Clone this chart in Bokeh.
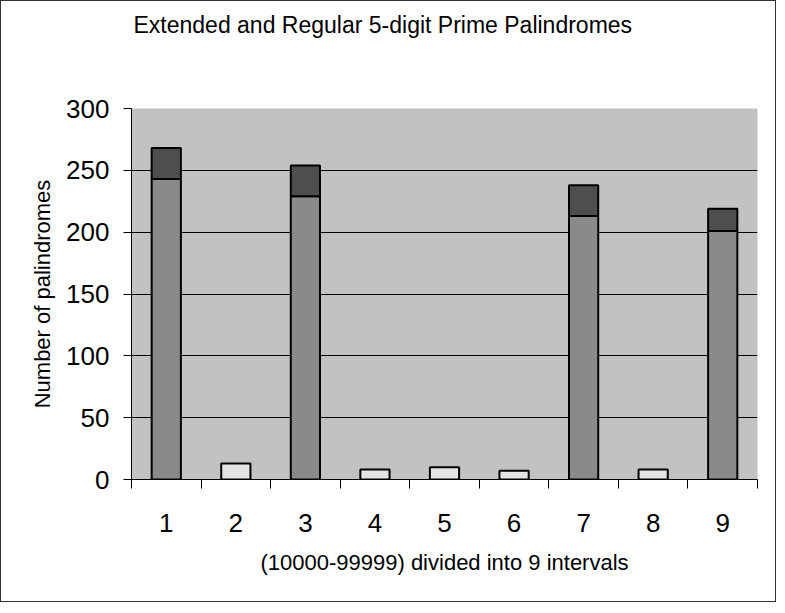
from bokeh.plotting import figure
from bokeh.models import ColumnDataSource, Range1d, FixedTicker, Title
from bokeh.embed import file_html
from bokeh.resources import INLINE

# ---- data ----
intervals = [1, 2, 3, 4, 5, 6, 7, 8, 9]
tick_labels = ["1", "2", "3", "4", "5", "6", "7", "8", "9"]
regular = [243, 0, 229, 0, 0, 0, 213, 0, 201]      # lower segment
extended = [25, 0, 25, 0, 0, 0, 25, 0, 18]         # upper segment
small = [0, 13, 0, 8, 10, 7, 0, 8, 0]              # short bars

title_text = "Extended and Regular 5-digit Prime Palindromes"
x_title = "(10000-99999) divided into 9 intervals"
y_title = "Number of palindromes"
y_ticks = [0, 50, 100, 150, 200, 250, 300]

FONT = "Liberation Sans"

def nonzero(xs, bottoms, tops):
    keep = [i for i in range(len(xs)) if tops[i] - bottoms[i] > 0]
    return ColumnDataSource(dict(x=[xs[i] for i in keep],
                                 bottom=[bottoms[i] for i in keep],
                                 top=[tops[i] for i in keep]))

reg_src = nonzero(intervals, [0] * 9, regular)
ext_src = nonzero(intervals, regular, [r + e for r, e in zip(regular, extended)])
sm_src = nonzero(intervals, [0] * 9, small)

p = figure(frame_width=626, frame_height=371,
           x_range=Range1d(0.5, 9.5), y_range=Range1d(0, 300),
           output_backend="svg", toolbar_location=None, tools="")
p.min_border_left = 130
p.min_border_right = 18
p.min_border_top = 107
p.min_border_bottom = 122
p.background_fill_color = "#c2c2c2"
p.border_fill_color = "white"
p.outline_line_color = None
p.styles = {"border": "1px solid #333333"}

bw = 0.42
p.vbar(x="x", bottom="bottom", top="top", width=bw, source=reg_src,
       fill_color="#8a8a8a", line_color="black", line_width=2)
p.vbar(x="x", bottom="bottom", top="top", width=bw, source=ext_src,
       fill_color="#4e4e4e", line_color="black", line_width=2)
p.vbar(x="x", bottom="bottom", top="top", width=bw, source=sm_src,
       fill_color="#e4e4e4", line_color="black", line_width=2)

# grid
p.xgrid.grid_line_color = None
p.ygrid.grid_line_color = "black"
p.ygrid.grid_line_width = 1
p.ygrid.ticker = FixedTicker(ticks=y_ticks)

# x axis
xa = p.xaxis[0]
xa.ticker = FixedTicker(ticks=intervals,
                        minor_ticks=[i - 0.5 for i in intervals] + [intervals[-1] + 0.5])
xa.major_label_overrides = {i: t for i, t in zip(intervals, tick_labels)}
xa.major_tick_line_color = None
xa.major_tick_out = 0
xa.major_tick_in = 0
xa.minor_tick_line_color = "black"
xa.minor_tick_out = 9
xa.minor_tick_in = 0
xa.axis_line_color = "black"
xa.major_label_text_font = FONT
xa.major_label_text_font_size = "26px"
xa.major_label_text_color = "black"
xa.major_label_standoff = 25
xa.axis_label = x_title
xa.axis_label_text_font = FONT
xa.axis_label_text_font_size = "22px"
xa.axis_label_text_font_style = "normal"
xa.axis_label_text_color = "black"
xa.axis_label_standoff = 15

# y axis
ya = p.yaxis[0]
ya.ticker = FixedTicker(ticks=y_ticks)
ya.major_tick_line_color = "black"
ya.major_tick_out = 8
ya.major_tick_in = 0
ya.minor_tick_line_color = None
ya.axis_line_color = "black"
ya.major_label_text_font = FONT
ya.major_label_text_font_size = "26px"
ya.major_label_text_color = "black"
ya.major_label_standoff = 14
ya.axis_label = y_title
ya.axis_label_text_font = FONT
ya.axis_label_text_font_size = "22px"
ya.axis_label_text_font_style = "normal"
ya.axis_label_text_color = "black"
ya.axis_label_standoff = 8

# spacer between the frame and the chart title, then the title itself
spacer = Title(text=" ", text_font=FONT, text_font_size="62px", standoff=0)
p.add_layout(spacer, "above")
main_title = Title(text=title_text, text_font=FONT, text_font_size="23px",
                   text_font_style="normal", text_color="black",
                   align="left", offset=2, standoff=0)
p.add_layout(main_title, "above")

open("out.html", "w").write(file_html(p, INLINE))
